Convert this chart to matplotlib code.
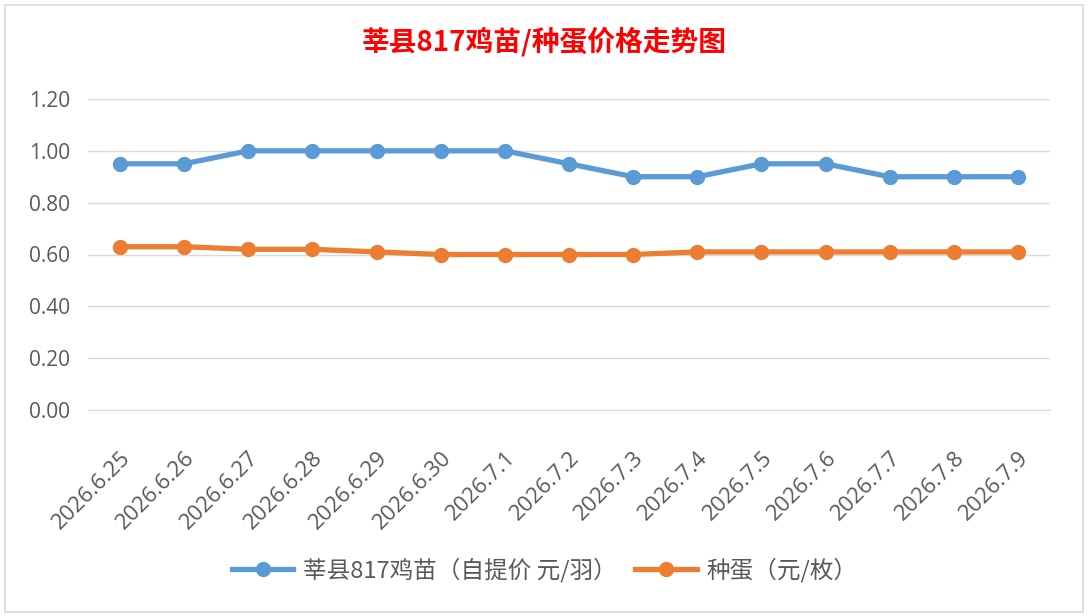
import matplotlib.pyplot as plt
from matplotlib.patches import Rectangle

plt.rcParams['font.family'] = ['Noto Sans CJK SC', 'DejaVu Sans']

dates = ["2026.6.25", "2026.6.26", "2026.6.27", "2026.6.28", "2026.6.29", "2026.6.30",
         "2026.7.1", "2026.7.2", "2026.7.3", "2026.7.4", "2026.7.5", "2026.7.6",
         "2026.7.7", "2026.7.8", "2026.7.9"]
chick = [0.95, 0.95, 1.00, 1.00, 1.00, 1.00, 1.00, 0.95, 0.90, 0.90, 0.95, 0.95, 0.90, 0.90, 0.90]
egg = [0.63, 0.63, 0.62, 0.62, 0.61, 0.60, 0.60, 0.60, 0.60, 0.61, 0.61, 0.61, 0.61, 0.61, 0.61]
yticks = [0, 0.2, 0.4, 0.6, 0.8, 1.0, 1.2]

fig = plt.figure(figsize=(10.89, 6.16), dpi=100)
fig.patches.append(Rectangle((5 / 1089, 4 / 616), 1078 / 1089, 607 / 616,
                             transform=fig.transFigure, fill=False,
                             edgecolor="#d9d9d9", linewidth=1.2))
ax = fig.add_axes([88 / 1089, 1 - 410 / 616, 962 / 1089, 311 / 616])

x = list(range(len(dates)))
ax.plot(x, chick, color="#5b9bd5", linewidth=3.8, marker="o", markersize=10,
        label="莘县817鸡苗（自提价 元/羽）")
ax.plot(x, egg, color="#ed7d31", linewidth=3.8, marker="o", markersize=10,
        label="种蛋（元/枚）")

ax.set_xlim(-0.5, len(dates) - 0.5)
ax.set_ylim(0, 1.2)
ax.set_yticks(yticks)
ax.set_yticklabels(["%.2f" % v for v in yticks], family="Open Sans", fontsize=15)
ax.set_xticks(x)
ax.set_xticklabels(dates, rotation=45, ha="right", rotation_mode="anchor",
                   family="Open Sans", fontsize=16)
ax.tick_params(axis="both", length=0, labelcolor="#595959")
ax.tick_params(axis="x", pad=27)
ax.tick_params(axis="y", pad=13)
ax.grid(axis="y", color="#d9d9d9", linewidth=1)
ax.set_axisbelow(True)
for s in ["top", "right", "left"]:
    ax.spines[s].set_visible(False)
ax.spines["bottom"].set_color("#d9d9d9")

fig.text(0.5, 1 - 42 / 616, "莘县817鸡苗/种蛋价格走势图", color="red",
         fontsize=20, fontweight="bold", ha="center", va="center")

fig.legend(loc="center", bbox_to_anchor=(0.5, 1 - 570 / 616), ncol=2, frameon=False,
           fontsize=17, labelcolor="#595959", handlelength=2.6, handletextpad=0.4,
           columnspacing=0.8, markerscale=1.0)

fig.savefig("out.png", dpi=100, facecolor="white")
